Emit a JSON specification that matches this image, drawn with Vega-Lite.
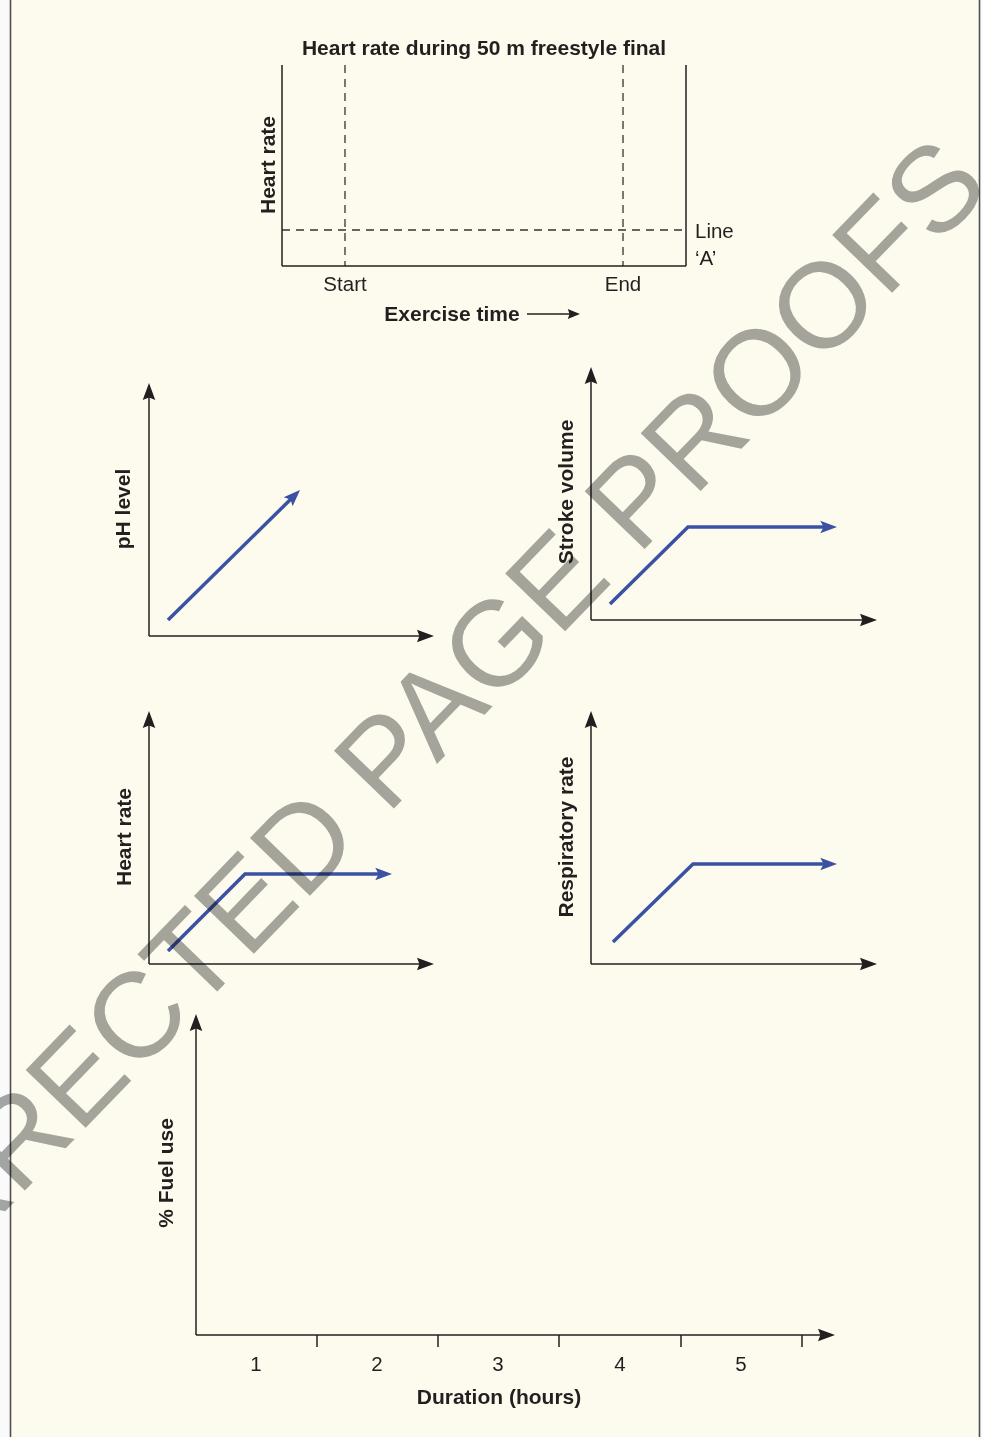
{
  "$schema": "https://vega.github.io/schema/vega-lite/v6.json",
  "width": 982,
  "height": 1437,
  "autosize": {"type": "none"},
  "padding": 0,
  "background": "#fafafa",
  "config": {"view": {"stroke": null}, "text": {"font": "Liberation Sans"}},
  "datasets": {
    "frame": [{"x": 11, "x2": 979, "y": 0, "y2": 1437}],
    "border": [
      {"x": 10.5, "y": 0, "x2": 10.5, "y2": 1437},
      {"x": 979.5, "y": 0, "x2": 979.5, "y2": 1437}
    ],
    "axes": [
      {"x": 149, "y": 636, "x2": 149, "y2": 390},
      {"x": 149, "y": 636, "x2": 428, "y2": 636},
      {"x": 591, "y": 620, "x2": 591, "y2": 374},
      {"x": 591, "y": 620, "x2": 871, "y2": 620},
      {"x": 149, "y": 964, "x2": 149, "y2": 718},
      {"x": 149, "y": 964, "x2": 428, "y2": 964},
      {"x": 591, "y": 964, "x2": 591, "y2": 718},
      {"x": 591, "y": 964, "x2": 871, "y2": 964},
      {"x": 196, "y": 1335, "x2": 196, "y2": 1021},
      {"x": 196, "y": 1335, "x2": 829, "y2": 1335},
      {"x": 282, "y": 65, "x2": 282, "y2": 266},
      {"x": 686, "y": 65, "x2": 686, "y2": 266},
      {"x": 282, "y": 266, "x2": 686, "y2": 266},
      {"x": 527, "y": 314, "x2": 574, "y2": 314},
      {"x": 317, "y": 1335, "x2": 317, "y2": 1347},
      {"x": 438, "y": 1335, "x2": 438, "y2": 1347},
      {"x": 559, "y": 1335, "x2": 559, "y2": 1347},
      {"x": 681, "y": 1335, "x2": 681, "y2": 1347},
      {"x": 802, "y": 1335, "x2": 802, "y2": 1347}
    ],
    "dashed": [
      {"x": 345, "y": 65, "x2": 345, "y2": 266},
      {"x": 623, "y": 65, "x2": 623, "y2": 266},
      {"x": 282, "y": 230, "x2": 686, "y2": 230}
    ],
    "curves": [
      {"s": "ph", "i": 0, "x": 168, "y": 620},
      {"s": "ph", "i": 1, "x": 293, "y": 497},
      {"s": "sv", "i": 0, "x": 610, "y": 604},
      {"s": "sv", "i": 1, "x": 688, "y": 527},
      {"s": "sv", "i": 2, "x": 826, "y": 527},
      {"s": "hr", "i": 0, "x": 168, "y": 951},
      {"s": "hr", "i": 1, "x": 245, "y": 874},
      {"s": "hr", "i": 2, "x": 381, "y": 874},
      {"s": "rr", "i": 0, "x": 613, "y": 942},
      {"s": "rr", "i": 1, "x": 693, "y": 864},
      {"s": "rr", "i": 2, "x": 826, "y": 864}
    ],
    "heads": [
      {"kind": "axis", "x": 149, "y": 383, "angle": 0},
      {"kind": "axis", "x": 434, "y": 636, "angle": 90},
      {"kind": "axis", "x": 591, "y": 367, "angle": 0},
      {"kind": "axis", "x": 877, "y": 620, "angle": 90},
      {"kind": "axis", "x": 149, "y": 711, "angle": 0},
      {"kind": "axis", "x": 434, "y": 964, "angle": 90},
      {"kind": "axis", "x": 591, "y": 711, "angle": 0},
      {"kind": "axis", "x": 877, "y": 964, "angle": 90},
      {"kind": "axis", "x": 196, "y": 1014, "angle": 0},
      {"kind": "axis", "x": 835, "y": 1335, "angle": 90},
      {"kind": "small", "x": 580, "y": 314, "angle": 90},
      {"kind": "blue", "x": 300, "y": 490, "angle": 45},
      {"kind": "blue", "x": 837, "y": 527, "angle": 90},
      {"kind": "blue", "x": 392, "y": 874, "angle": 90},
      {"kind": "blue", "x": 837, "y": 864, "angle": 90}
    ],
    "labels": [
      {"kind": "bc", "x": 484, "y": 55, "text": "Heart rate during 50 m freestyle final"},
      {"kind": "bc", "x": 452, "y": 321, "text": "Exercise time"},
      {"kind": "bc", "x": 499, "y": 1404, "text": "Duration (hours)"},
      {"kind": "rc", "x": 345, "y": 291, "text": "Start"},
      {"kind": "rc", "x": 623, "y": 291, "text": "End"},
      {"kind": "rc", "x": 256, "y": 1371, "text": "1"},
      {"kind": "rc", "x": 377, "y": 1371, "text": "2"},
      {"kind": "rc", "x": 498, "y": 1371, "text": "3"},
      {"kind": "rc", "x": 620, "y": 1371, "text": "4"},
      {"kind": "rc", "x": 741, "y": 1371, "text": "5"},
      {"kind": "rl", "x": 695, "y": 238, "text": "Line"},
      {"kind": "rl", "x": 695, "y": 265, "text": "‘A’"},
      {"kind": "rot", "x": 275, "y": 165, "text": "Heart rate"},
      {"kind": "rot", "x": 130, "y": 509, "text": "pH level"},
      {"kind": "rot", "x": 573, "y": 492, "text": "Stroke volume"},
      {"kind": "rot", "x": 131, "y": 837, "text": "Heart rate"},
      {"kind": "rot", "x": 573, "y": 837, "text": "Respiratory rate"},
      {"kind": "rot", "x": 173, "y": 1173, "text": "% Fuel use"}
    ],
    "watermark": [{"x": 412, "y": 790, "text": "CORRECTED PAGE PROOFS"}]
  },
  "encoding": {
    "x": {"field": "x", "type": "quantitative", "scale": {"domain": [0, 982], "nice": false, "zero": false}, "axis": null},
    "y": {"field": "y", "type": "quantitative", "scale": {"domain": [0, 1437], "nice": false, "zero": false, "reverse": true}, "axis": null}
  },
  "layer": [
    {
      "data": {"name": "frame"},
      "mark": {"type": "rect", "color": "#fdfbed"},
      "encoding": {"x2": {"field": "x2"}, "y2": {"field": "y2"}}
    },
    {
      "data": {"name": "border"},
      "mark": {"type": "rule", "color": "#505050", "strokeWidth": 1.6},
      "encoding": {"x2": {"field": "x2"}, "y2": {"field": "y2"}}
    },
    {
      "data": {"name": "dashed"},
      "mark": {"type": "rule", "color": "#333333", "strokeWidth": 1.3, "strokeDash": [8, 6]},
      "encoding": {"x2": {"field": "x2"}, "y2": {"field": "y2"}}
    },
    {
      "data": {"name": "axes"},
      "mark": {"type": "rule", "color": "#231f20", "strokeWidth": 1.5},
      "encoding": {"x2": {"field": "x2"}, "y2": {"field": "y2"}}
    },
    {
      "data": {"name": "curves"},
      "mark": {"type": "line", "color": "#3a51a4", "strokeWidth": 3.5, "strokeJoin": "miter", "strokeCap": "butt"},
      "encoding": {"detail": {"field": "s"}, "order": {"field": "i", "type": "quantitative"}}
    },
    {
      "data": {"name": "heads"},
      "transform": [{"filter": "datum.kind === 'axis'"}],
      "mark": {"type": "point", "shape": "M0,0L0.74,2L0,1.72L-0.74,2Z", "filled": true, "size": 289, "color": "#231f20", "opacity": 1, "strokeWidth": 0},
      "encoding": {"angle": {"field": "angle", "type": "quantitative", "scale": null}}
    },
    {
      "data": {"name": "heads"},
      "transform": [{"filter": "datum.kind === 'small'"}],
      "mark": {"type": "point", "shape": "M0,0L0.8,2L0,1.7L-0.8,2Z", "filled": true, "size": 150, "color": "#231f20", "opacity": 1, "strokeWidth": 0},
      "encoding": {"angle": {"field": "angle", "type": "quantitative", "scale": null}}
    },
    {
      "data": {"name": "heads"},
      "transform": [{"filter": "datum.kind === 'blue'"}],
      "mark": {"type": "point", "shape": "M0,0L0.76,2L0,1.6L-0.76,2Z", "filled": true, "size": 280, "color": "#3a51a4", "opacity": 1, "strokeWidth": 0},
      "encoding": {"angle": {"field": "angle", "type": "quantitative", "scale": null}}
    },
    {
      "data": {"name": "labels"},
      "transform": [{"filter": "datum.kind === 'bc'"}],
      "mark": {"type": "text", "fontSize": 21, "fontWeight": "bold", "align": "center", "baseline": "alphabetic", "color": "#231f20"},
      "encoding": {"text": {"field": "text"}}
    },
    {
      "data": {"name": "labels"},
      "transform": [{"filter": "datum.kind === 'rc'"}],
      "mark": {"type": "text", "fontSize": 20.5, "align": "center", "baseline": "alphabetic", "color": "#231f20"},
      "encoding": {"text": {"field": "text"}}
    },
    {
      "data": {"name": "labels"},
      "transform": [{"filter": "datum.kind === 'rl'"}],
      "mark": {"type": "text", "fontSize": 20.5, "align": "left", "baseline": "alphabetic", "color": "#231f20"},
      "encoding": {"text": {"field": "text"}}
    },
    {
      "data": {"name": "labels"},
      "transform": [{"filter": "datum.kind === 'rot'"}],
      "mark": {"type": "text", "fontSize": 21, "fontWeight": "bold", "angle": 270, "align": "center", "baseline": "alphabetic", "color": "#231f20"},
      "encoding": {"text": {"field": "text"}}
    },
    {
      "data": {"name": "watermark"},
      "mark": {"type": "text", "fontSize": 121, "angle": 314, "align": "center", "baseline": "alphabetic", "color": "#a6a7a7", "blend": "multiply", "font": "Liberation Sans"},
      "encoding": {"text": {"field": "text"}}
    }
  ]
}
